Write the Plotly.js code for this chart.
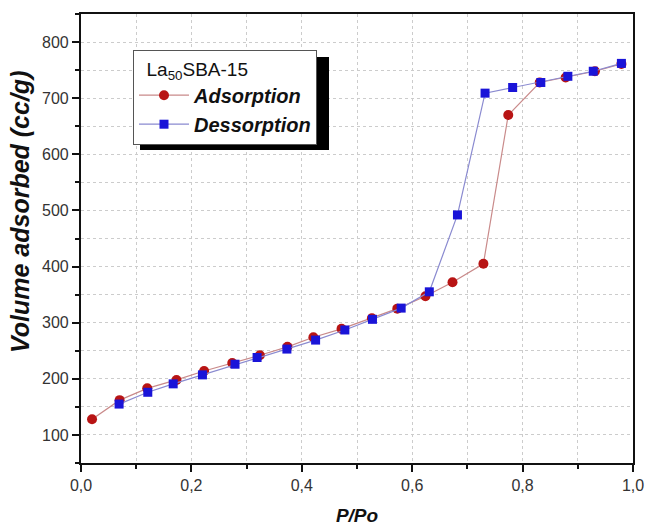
<!DOCTYPE html>
<html>
<head>
<meta charset="utf-8">
<script src="https://cdn.plot.ly/plotly-3.0.1.min.js"></script>
<style>html,body{margin:0;padding:0;background:#fff;}#chart{width:647px;height:526px;}</style>
</head>
<body>
<div id="chart"></div>
<script>
const adsX = [0.02, 0.07, 0.12, 0.173, 0.223, 0.274, 0.324, 0.374, 0.421, 0.472, 0.527, 0.573, 0.624, 0.673, 0.729, 0.774, 0.831, 0.878, 0.931, 0.979];
const adsY = [128, 162, 183, 198, 214, 228, 242, 257, 274, 289, 308, 325, 347, 372, 405, 670, 728, 737, 748, 761];
const desX = [0.069, 0.121, 0.167, 0.220, 0.279, 0.319, 0.373, 0.425, 0.478, 0.528, 0.580, 0.631, 0.682, 0.732, 0.782, 0.833, 0.882, 0.928, 0.979];
const desY = [155, 176, 191, 207, 226, 238, 253, 269, 287, 306, 326, 355, 492, 709, 719, 728, 739, 748, 762];
const seriesNames = ['<b><i>Adsorption</i></b>', '<b><i>Dessorption</i></b>'];
const legendTitle = '&nbsp;&nbsp;La<sub>50</sub>SBA-15';
const xTitle = '<b><i>P/Po</i></b>';
const yTitle = '<b><i>Volume adsorbed (cc/g)</i></b>';

const FONT = 'Liberation Sans, Arial, sans-serif';

const traces = [
  {x: adsX, y: adsY, name: seriesNames[0], mode: 'lines+markers', type: 'scatter',
   line: {color: '#c98a8a', width: 1.2}, marker: {color: '#b81414', size: 10, symbol: 'circle'}},
  {x: desX, y: desY, name: seriesNames[1], mode: 'lines+markers', type: 'scatter',
   line: {color: '#8a8ad0', width: 1.2}, marker: {color: '#1a14d8', size: 9, symbol: 'square'}}
];

const gridMinor = {ticks: 'outside', ticklen: 4, tickwidth: 2, tickcolor: '#111', showgrid: true, gridcolor: '#cccccc', griddash: 'dot', gridwidth: 1};

const axisCommon = {
  showline: true, linecolor: '#111', linewidth: 2.2, mirror: true,
  ticks: 'outside', ticklen: 7, tickwidth: 2, tickcolor: '#111',
  showgrid: true, gridcolor: '#cccccc', griddash: 'dot', gridwidth: 1,
  zeroline: false,
  tickfont: {family: FONT, size: 16, color: '#333'}
};

const layout = {
  width: 647, height: 526,
  margin: {l: 81, r: 14, t: 14, b: 63},
  paper_bgcolor: '#fff', plot_bgcolor: '#fff',
  separators: ',.',
  showlegend: true,
  xaxis: Object.assign({}, axisCommon, {
    range: [0, 1], dtick: 0.2, tick0: 0, tickformat: '.1f',
    minor: Object.assign({dtick: 0.1}, gridMinor),
    title: {text: xTitle, font: {family: FONT, size: 19, color: '#111'}, standoff: 16}
  }),
  yaxis: Object.assign({}, axisCommon, {
    range: [50, 850], dtick: 100, tick0: 0,
    minor: Object.assign({dtick: 50}, gridMinor)
  }),
  legend: {
    x: (133 - 81) / 552, y: (463 - 50) / 449, xanchor: 'left', yanchor: 'top',
    bgcolor: '#fff', bordercolor: '#555', borderwidth: 1,
    itemwidth: 50,
    font: {family: FONT, size: 20, color: '#111'},
    title: {text: legendTitle, font: {family: FONT, size: 19, color: '#111'}},
    tracegroupgap: 0
  },
  annotations: [
    {text: yTitle, xref: 'paper', yref: 'paper', x: (20 - 81) / 552, y: (463 - 212) / 449,
     xanchor: 'center', yanchor: 'middle', textangle: -90, showarrow: false,
     font: {family: FONT, size: 25, color: '#111'}}
  ],
  shapes: [
    {type: 'rect', xref: 'paper', yref: 'paper', layer: 'above',
     x0: (140 - 81) / 552, x1: (329 - 81) / 552, y0: (463 - 150) / 449, y1: (463 - 57) / 449,
     fillcolor: '#000', line: {width: 0}}
  ]
};

Plotly.newPlot('chart', traces, layout, {displayModeBar: false});
</script>
</body>
</html>
